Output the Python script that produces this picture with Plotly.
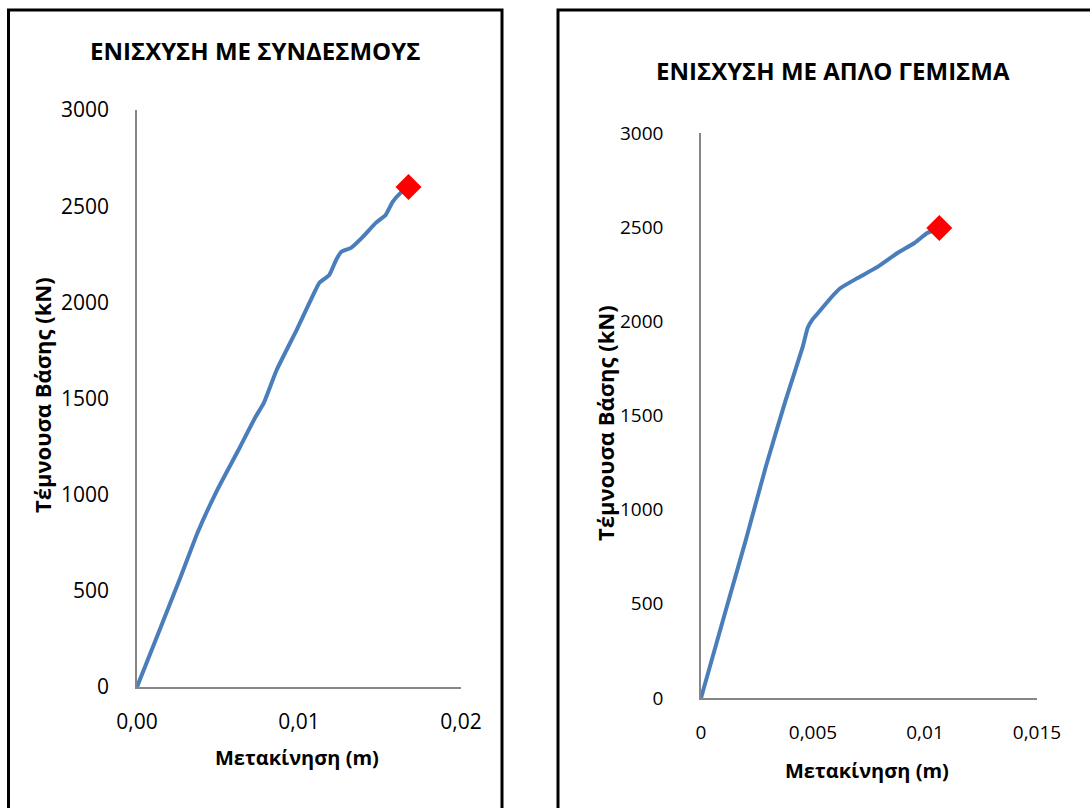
import plotly.graph_objects as go

# Left chart: strengthening with ties
disp_ties = [0, 0.00147, 0.00269, 0.00373, 0.00495, 0.00636, 0.00728, 0.00783,
             0.00862, 0.00985, 0.01064, 0.01125, 0.01187, 0.01229, 0.0126,
             0.01321, 0.01394, 0.01474, 0.01535, 0.01578, 0.01627, 0.01676]
shear_ties = [0, 312, 572, 801, 1024, 1248, 1399, 1477, 1648, 1856, 1997,
              2101, 2142, 2220, 2262, 2283, 2340, 2413, 2454, 2522, 2569, 2600]

# Right chart: strengthening with simple infill
disp_fill = [0, 0.00111, 0.002, 0.00289, 0.00378, 0.00454, 0.00476, 0.00498,
             0.00534, 0.00579, 0.00623, 0.00699, 0.00788, 0.00877, 0.00953,
             0.0101, 0.01064]
shear_fill = [0, 467, 839, 1227, 1582, 1864, 1965, 2010, 2060, 2124, 2177,
              2230, 2289, 2363, 2416, 2469, 2495]

title_ties = "ΕΝΙΣΧΥΣΗ ΜΕ ΣΥΝΔΕΣΜΟΥΣ"
title_fill = "ΕΝΙΣΧΥΣΗ ΜΕ ΑΠΛΟ ΓΕΜΙΣΜΑ"
x_title = "Μετακίνηση (m)"
y_title = "Τέμνουσα Βάσης (kN)"

y_ticks = [0, 500, 1000, 1500, 2000, 2500, 3000]
x_ticks_ties = [0, 0.01, 0.02]
x_text_ties = ["0,00", "0,01", "0,02"]
x_ticks_fill = [0, 0.005, 0.01, 0.015]
x_text_fill = ["0", "0,005", "0,01", "0,015"]

W, H = 1090, 808
LINE = "#4a7ebb"
AXIS = "#868686"
FONT = "Open Sans"


def px_x(p):
    return p / W


def px_y(p):
    return 1 - p / H


fig = go.Figure()

fig.add_trace(go.Scatter(x=disp_ties, y=shear_ties, mode="lines",
                         line=dict(color=LINE, width=4, shape="spline",
                                   smoothing=0.4),
                         xaxis="x", yaxis="y", showlegend=False))
fig.add_trace(go.Scatter(x=[disp_ties[-1]], y=[shear_ties[-1]], mode="markers",
                         marker=dict(symbol="diamond", size=20, color="#ff0000",
                                     line=dict(color="#ff0000", width=0)),
                         xaxis="x", yaxis="y", showlegend=False))
fig.add_trace(go.Scatter(x=disp_fill, y=shear_fill, mode="lines",
                         line=dict(color=LINE, width=4, shape="spline",
                                   smoothing=0.4),
                         xaxis="x2", yaxis="y2", showlegend=False))
fig.add_trace(go.Scatter(x=[disp_fill[-1]], y=[shear_fill[-1]], mode="markers",
                         marker=dict(symbol="diamond", size=20, color="#ff0000",
                                     line=dict(color="#ff0000", width=0)),
                         xaxis="x2", yaxis="y2", showlegend=False))

tick_font = dict(family=FONT, size=21, color="#000000")
tick_font_right = dict(family=FONT, size=19, color="#000000")
common_axis = dict(showgrid=False, zeroline=False, showline=True,
                   linecolor=AXIS, linewidth=1.5, ticks="", tickfont=tick_font,
                   automargin=False)

fig.update_layout(
    width=W, height=H,
    margin=dict(l=0, r=0, t=0, b=0),
    paper_bgcolor="white", plot_bgcolor="white",
    xaxis=dict(common_axis, domain=[px_x(137), px_x(461)], range=[0, 0.02],
               tickvals=x_ticks_ties, ticktext=x_text_ties,
               ticklabelstandoff=15, anchor="y"),
    yaxis=dict(common_axis, domain=[px_y(687), px_y(110)], range=[0, 3000],
               tickvals=y_ticks, ticklabelstandoff=22, anchor="x"),
    xaxis2=dict(common_axis, domain=[px_x(701), px_x(1037)], range=[0, 0.015],
                tickvals=x_ticks_fill, ticktext=x_text_fill,
                ticklabelstandoff=16, anchor="y2", tickfont=tick_font_right),
    yaxis2=dict(common_axis, domain=[px_y(698), px_y(133)], range=[0, 3000],
                tickvals=y_ticks, ticklabelstandoff=32, anchor="x2",
                tickfont=tick_font_right),
)

bold = dict(family=FONT, size=24, color="#000000")
label_font = dict(family=FONT, size=20, color="#000000")
annotations = [
    dict(text="<b>" + title_ties + "</b>", x=px_x(255), y=px_y(50), font=bold),
    dict(text="<b>" + title_fill + "</b>", x=px_x(833), y=px_y(71), font=bold),
    dict(text="<b>" + x_title + "</b>", x=px_x(297), y=px_y(757), font=label_font),
    dict(text="<b>" + x_title + "</b>", x=px_x(867), y=px_y(770), font=label_font),
    dict(text="<b>" + y_title + "</b>", x=px_x(42), y=px_y(395), textangle=-90,
         font=dict(family=FONT, size=22, color="#000000")),
    dict(text="<b>" + y_title + "</b>", x=px_x(605), y=px_y(423), textangle=-90,
         font=dict(family=FONT, size=22, color="#000000")),
]
for a in annotations:
    a.update(xref="paper", yref="paper", showarrow=False,
             xanchor="center", yanchor="middle")
fig.update_layout(annotations=annotations)

# Chart frames
frame = dict(type="path", xref="paper", yref="paper",
             line=dict(color="#000000", width=3))
fig.update_layout(shapes=[
    dict(frame, path=f"M {px_x(8.5)} -0.05 L {px_x(8.5)} {px_y(10)} "
                     f"L {px_x(502)} {px_y(10)} L {px_x(502)} -0.05"),
    dict(frame, path=f"M {px_x(558)} -0.05 L {px_x(558)} {px_y(10)} "
                     f"L 1.05 {px_y(10)}"),
])

fig.write_html("out.html")
